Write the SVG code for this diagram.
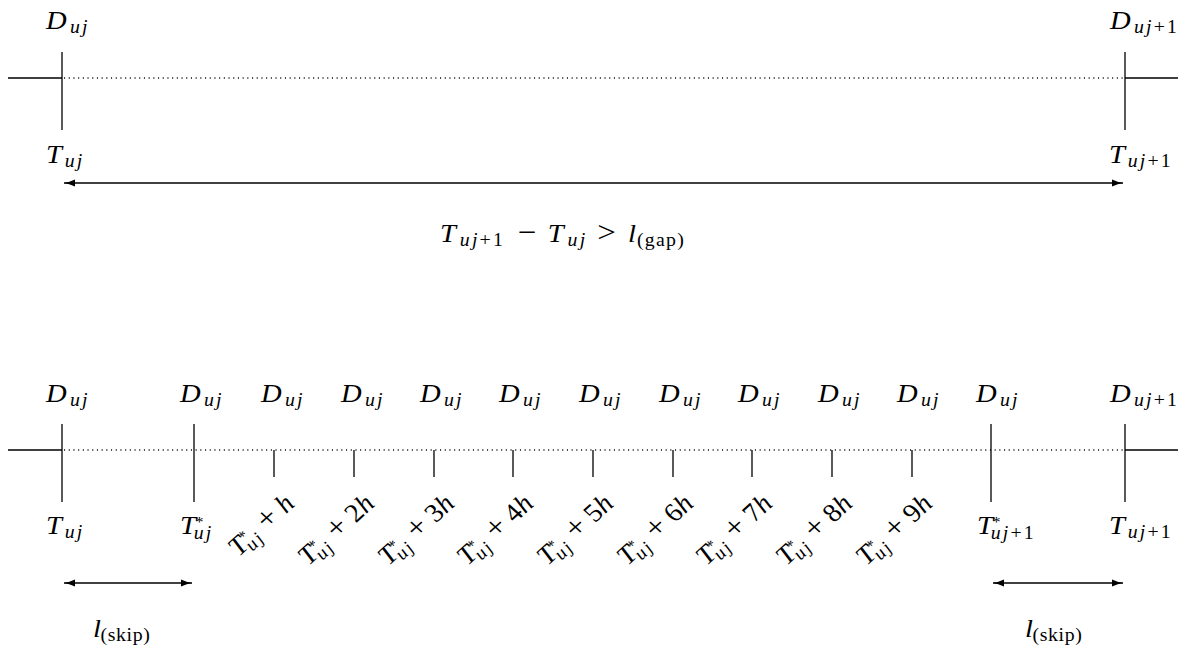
<svg xmlns="http://www.w3.org/2000/svg" width="1188" height="652" viewBox="0 0 1188 652">
<defs>
<style>
.ln{stroke:#000;stroke-width:1.3;fill:none}
.dot{stroke:#111;stroke-width:1.4;fill:none;stroke-dasharray:1.1 3.6}
.m{font-family:"Liberation Serif","Times New Roman",serif;font-style:italic;font-size:26px;fill:#000}
.s{font-size:18px;letter-spacing:2px}
.r{font-style:normal}
.pl{font-style:normal;font-size:30px}
.st{font-size:15px;font-style:normal;letter-spacing:0}
</style>
<marker id="ah" markerUnits="userSpaceOnUse" markerWidth="12" markerHeight="10" viewBox="0 0 12 10" refX="11" refY="5" orient="auto-start-reverse">
<path d="M0,1.4 Q6,4.2 11,5 Q6,5.8 0,8.6 Z" fill="#000"/>
</marker>
</defs>
<rect width="1188" height="652" fill="#fff"/>

<!-- top timeline -->
<g id="top-line">
<line class="ln" x1="8" y1="78" x2="62" y2="78"/>
<line class="dot" x1="64" y1="78" x2="1125" y2="78"/>
<line class="ln" x1="1125" y1="78" x2="1178" y2="78"/>
</g>
<g id="top-left">
<line class="ln" x1="62" y1="52" x2="62" y2="130"/>
<text class="m" transform="translate(46,29) scale(1.1,1)">D<tspan class="s" dx="3" dy="4">uj</tspan></text>
<text class="m" transform="translate(46,163) scale(1.1,1)">T<tspan class="s" dx="2.5" dy="4">uj</tspan></text>
</g>
<g id="top-right">
<line class="ln" x1="1125" y1="52" x2="1125" y2="130"/>
<text class="m" transform="translate(1110,29) scale(1.1,1)">D<tspan class="s" dx="3" dy="4">uj<tspan class="r">+1</tspan></tspan></text>
<text class="m" transform="translate(1109,163) scale(1.1,1)">T<tspan class="s" dx="2.5" dy="4">uj<tspan class="r">+1</tspan></tspan></text>
</g>
<g id="gap-label">
<text class="m" transform="translate(440,242) scale(1.1,1)"><tspan x="0" y="0">T</tspan><tspan class="s" x="18" y="4">uj<tspan class="r">+1</tspan></tspan><tspan class="pl" x="71" y="0">−</tspan><tspan x="98" y="0">T</tspan><tspan class="s" x="116" y="4">uj</tspan><tspan class="pl" x="143" y="0">&gt;</tspan><tspan x="171" y="0">l</tspan><tspan class="s r" x="179" y="4" style="letter-spacing:1.2px">(gap)</tspan></text>
</g>

<!-- bottom timeline -->
<g id="bottom-line">
<line class="ln" x1="8" y1="450" x2="62" y2="450"/>
<line class="dot" x1="64" y1="450" x2="1125" y2="450"/>
<line class="ln" x1="1125" y1="450" x2="1178" y2="450"/>
</g>
<g id="b-start">
<line class="ln" x1="62" y1="424" x2="62" y2="502"/>
<text class="m" transform="translate(46,402) scale(1.1,1)">D<tspan class="s" dx="3" dy="4">uj</tspan></text>
<text class="m" transform="translate(46,534) scale(1.1,1)">T<tspan class="s" dx="2.5" dy="4">uj</tspan></text>
</g>
<g id="b-tstar">
<line class="ln" x1="194" y1="424" x2="194" y2="502"/>
<text class="m" transform="translate(180,402) scale(1.1,1)">D<tspan class="s" dx="3" dy="4">uj</tspan></text>
<text class="m" transform="translate(180,534) scale(1.1,1)">T<tspan class="st" dx="-0.5" dy="-7">*</tspan><tspan class="s" dx="-9" dy="12">uj</tspan></text>
</g>

<g id="b-h1">
<line class="ln" x1="274" y1="450" x2="274" y2="477"/>
<text class="m" transform="translate(261,402) scale(1.1,1)">D<tspan class="s" dx="3" dy="4">uj</tspan></text>
<text class="m" text-anchor="end" transform="translate(296,505) scale(1.1,1) rotate(-45)">T<tspan class="st" dx="-0.5" dy="-7">*</tspan><tspan class="s" dx="-9" dy="12">uj</tspan><tspan class="r" dy="-5"> </tspan><tspan class="pl">+</tspan><tspan class="r"> </tspan>h</text>
</g>
<g id="b-h2">
<line class="ln" x1="354" y1="450" x2="354" y2="477"/>
<text class="m" transform="translate(341,402) scale(1.1,1)">D<tspan class="s" dx="3" dy="4">uj</tspan></text>
<text class="m" text-anchor="end" transform="translate(376,505) scale(1.1,1) rotate(-45)">T<tspan class="st" dx="-0.5" dy="-7">*</tspan><tspan class="s" dx="-9" dy="12">uj</tspan><tspan class="r" dy="-5"> </tspan><tspan class="pl">+</tspan><tspan class="r"> 2</tspan>h</text>
</g>
<g id="b-h3">
<line class="ln" x1="434" y1="450" x2="434" y2="477"/>
<text class="m" transform="translate(420,402) scale(1.1,1)">D<tspan class="s" dx="3" dy="4">uj</tspan></text>
<text class="m" text-anchor="end" transform="translate(456,505) scale(1.1,1) rotate(-45)">T<tspan class="st" dx="-0.5" dy="-7">*</tspan><tspan class="s" dx="-9" dy="12">uj</tspan><tspan class="r" dy="-5"> </tspan><tspan class="pl">+</tspan><tspan class="r"> 3</tspan>h</text>
</g>
<g id="b-h4">
<line class="ln" x1="513" y1="450" x2="513" y2="477"/>
<text class="m" transform="translate(499,402) scale(1.1,1)">D<tspan class="s" dx="3" dy="4">uj</tspan></text>
<text class="m" text-anchor="end" transform="translate(535,505) scale(1.1,1) rotate(-45)">T<tspan class="st" dx="-0.5" dy="-7">*</tspan><tspan class="s" dx="-9" dy="12">uj</tspan><tspan class="r" dy="-5"> </tspan><tspan class="pl">+</tspan><tspan class="r"> 4</tspan>h</text>
</g>
<g id="b-h5">
<line class="ln" x1="593" y1="450" x2="593" y2="477"/>
<text class="m" transform="translate(579,402) scale(1.1,1)">D<tspan class="s" dx="3" dy="4">uj</tspan></text>
<text class="m" text-anchor="end" transform="translate(615,505) scale(1.1,1) rotate(-45)">T<tspan class="st" dx="-0.5" dy="-7">*</tspan><tspan class="s" dx="-9" dy="12">uj</tspan><tspan class="r" dy="-5"> </tspan><tspan class="pl">+</tspan><tspan class="r"> 5</tspan>h</text>
</g>
<g id="b-h6">
<line class="ln" x1="673" y1="450" x2="673" y2="477"/>
<text class="m" transform="translate(659,402) scale(1.1,1)">D<tspan class="s" dx="3" dy="4">uj</tspan></text>
<text class="m" text-anchor="end" transform="translate(695,505) scale(1.1,1) rotate(-45)">T<tspan class="st" dx="-0.5" dy="-7">*</tspan><tspan class="s" dx="-9" dy="12">uj</tspan><tspan class="r" dy="-5"> </tspan><tspan class="pl">+</tspan><tspan class="r"> 6</tspan>h</text>
</g>
<g id="b-h7">
<line class="ln" x1="752" y1="450" x2="752" y2="477"/>
<text class="m" transform="translate(738,402) scale(1.1,1)">D<tspan class="s" dx="3" dy="4">uj</tspan></text>
<text class="m" text-anchor="end" transform="translate(774,505) scale(1.1,1) rotate(-45)">T<tspan class="st" dx="-0.5" dy="-7">*</tspan><tspan class="s" dx="-9" dy="12">uj</tspan><tspan class="r" dy="-5"> </tspan><tspan class="pl">+</tspan><tspan class="r"> 7</tspan>h</text>
</g>
<g id="b-h8">
<line class="ln" x1="832" y1="450" x2="832" y2="477"/>
<text class="m" transform="translate(818,402) scale(1.1,1)">D<tspan class="s" dx="3" dy="4">uj</tspan></text>
<text class="m" text-anchor="end" transform="translate(854,505) scale(1.1,1) rotate(-45)">T<tspan class="st" dx="-0.5" dy="-7">*</tspan><tspan class="s" dx="-9" dy="12">uj</tspan><tspan class="r" dy="-5"> </tspan><tspan class="pl">+</tspan><tspan class="r"> 8</tspan>h</text>
</g>
<g id="b-h9">
<line class="ln" x1="912" y1="450" x2="912" y2="477"/>
<text class="m" transform="translate(897,402) scale(1.1,1)">D<tspan class="s" dx="3" dy="4">uj</tspan></text>
<text class="m" text-anchor="end" transform="translate(934,505) scale(1.1,1) rotate(-45)">T<tspan class="st" dx="-0.5" dy="-7">*</tspan><tspan class="s" dx="-9" dy="12">uj</tspan><tspan class="r" dy="-5"> </tspan><tspan class="pl">+</tspan><tspan class="r"> 9</tspan>h</text>
</g>
<g id="b-tstar-next">
<line class="ln" x1="991" y1="424" x2="991" y2="502"/>
<text class="m" transform="translate(976,402) scale(1.1,1)">D<tspan class="s" dx="3" dy="4">uj</tspan></text>
<text class="m" transform="translate(977,534) scale(1.1,1)">T<tspan class="st" dx="-0.5" dy="-7">*</tspan><tspan class="s" dx="-9" dy="12">uj<tspan class="r">+1</tspan></tspan></text>
</g>
<g id="b-end">
<line class="ln" x1="1125" y1="424" x2="1125" y2="502"/>
<text class="m" transform="translate(1110,402) scale(1.1,1)">D<tspan class="s" dx="3" dy="4">uj<tspan class="r">+1</tspan></tspan></text>
<text class="m" transform="translate(1109,534) scale(1.1,1)">T<tspan class="s" dx="2.5" dy="4">uj<tspan class="r">+1</tspan></tspan></text>
</g>

<g id="skip-labels">
<text class="m" transform="translate(93,637) scale(1.1,1)">l<tspan class="s r" dx="-0.5" dy="4" style="letter-spacing:0.6px">(skip)</tspan></text>
<text class="m" transform="translate(1025,637) scale(1.1,1)">l<tspan class="s r" dx="-0.5" dy="4" style="letter-spacing:0.6px">(skip)</tspan></text>
</g>

<g id="connectors">
<line class="ln" x1="64" y1="183" x2="1123" y2="183" marker-start="url(#ah)" marker-end="url(#ah)"/>
<line class="ln" x1="64" y1="583" x2="192" y2="583" marker-start="url(#ah)" marker-end="url(#ah)"/>
<line class="ln" x1="993" y1="583" x2="1123" y2="583" marker-start="url(#ah)" marker-end="url(#ah)"/>
</g>
</svg>
